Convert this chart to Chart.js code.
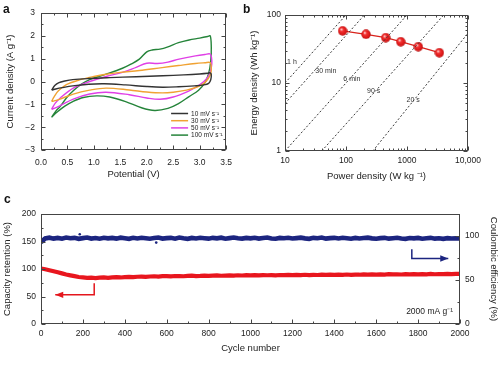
<!DOCTYPE html>
<html>
<head>
<meta charset="utf-8">
<script src="https://cdn.jsdelivr.net/npm/chart.js@4.4.1/dist/chart.umd.min.js"></script>
<style>
  body { margin: 0; background: #fff; }
  #fig { position: relative; width: 500px; height: 384px; overflow: hidden; }
  #fig canvas { position: absolute; }
  .tag { position: absolute; font: bold 12px/12px "Liberation Sans", Arial, sans-serif; color: #111; }
</style>
</head>
<body>
<div id="fig">
  <canvas id="graficoCV" width="240" height="185" style="left:0; top:0"></canvas>
  <canvas id="graficoRagone" width="255" height="185" style="left:245px; top:0"></canvas>
  <canvas id="graficoCiclos" width="500" height="194" style="left:0; top:190px"></canvas>
  <div class="tag" style="left:3px; top:3px">a</div>
  <div class="tag" style="left:243px; top:3px">b</div>
  <div class="tag" style="left:4px; top:193px">c</div>
</div>
<script>
// ---------- dados: painel a (voltametria ciclica) ----------
const cvNomes = ['10 mV s⁻¹', '30 mV s⁻¹', '50 mV s⁻¹', '100 mV s⁻¹'];
const cv10V = [0.2, 0.26, 0.34, 0.45, 0.6, 0.9, 1.3, 1.8, 2.3, 2.7, 3.0, 3.15, 3.2, 3.22, 3.21, 3.17, 3.08, 2.9, 2.6, 2.3, 2.0, 1.6, 1.2, 0.9, 0.6, 0.4, 0.28, 0.2];
const cv10I = [-0.38, -0.18, -0.05, 0.02, 0.08, 0.13, 0.17, 0.21, 0.25, 0.29, 0.33, 0.36, 0.38, 0.3, 0.08, -0.08, -0.15, -0.19, -0.23, -0.25, -0.22, -0.15, -0.1, -0.12, -0.19, -0.27, -0.33, -0.38];
const cv30V = [0.2, 0.25, 0.33, 0.48, 0.73, 1.0, 1.23, 1.5, 1.86, 2.29, 2.6, 2.92, 3.1, 3.2, 3.22, 3.21, 3.16, 3.08, 2.95, 2.75, 2.5, 2.29, 2.0, 1.67, 1.23, 0.92, 0.61, 0.36, 0.25, 0.2];
const cv30I = [-0.87, -0.66, -0.41, -0.14, 0.07, 0.22, 0.32, 0.4, 0.48, 0.61, 0.7, 0.79, 0.82, 0.83, 0.6, 0.35, 0.12, -0.08, -0.24, -0.38, -0.47, -0.5, -0.46, -0.37, -0.29, -0.38, -0.55, -0.77, -0.85, -0.87];
const cv50V = [0.2, 0.27, 0.36, 0.61, 0.92, 1.23, 1.54, 1.8, 2.0, 2.2, 2.4, 2.61, 2.92, 3.1, 3.2, 3.23, 3.22, 3.17, 3.08, 2.95, 2.8, 2.5, 2.25, 2.0, 1.67, 1.23, 0.92, 0.61, 0.36, 0.25, 0.2];
const cv50I = [-1.22, -0.95, -0.73, -0.29, 0.0, 0.22, 0.4, 0.62, 0.8, 0.79, 0.85, 0.98, 1.12, 1.18, 1.2, 0.9, 0.6, 0.25, 0.0, -0.22, -0.41, -0.68, -0.78, -0.72, -0.58, -0.47, -0.55, -0.77, -1.06, -1.18, -1.22];
const cv100V = [0.2, 0.28, 0.36, 0.48, 0.61, 0.75, 0.92, 1.23, 1.54, 1.7, 1.86, 2.0, 2.1, 2.25, 2.4, 2.6, 2.8, 3.0, 3.15, 3.2, 3.22, 3.21, 3.17, 3.1, 2.98, 2.8, 2.6, 2.4, 2.15, 1.9, 1.6, 1.3, 1.05, 0.8, 0.6, 0.45, 0.3, 0.2];
const cv100I = [-1.57, -1.3, -1.1, -0.72, -0.41, -0.14, 0.08, 0.32, 0.58, 0.76, 0.98, 1.3, 1.38, 1.42, 1.52, 1.7, 1.82, 1.9, 1.97, 2.0, 1.5, 0.9, 0.35, -0.05, -0.38, -0.66, -0.97, -1.18, -1.27, -1.15, -0.88, -0.68, -0.63, -0.7, -0.88, -1.08, -1.35, -1.57];
const cvPotTicks = [0, 0.5, 1, 1.5, 2, 2.5, 3, 3.5];
const cvCurTicks = [-3, -2, -1, 0, 1, 2, 3];

// ---------- dados: painel b (Ragone) ----------
const ragoneP = [88, 213, 448, 788, 1530, 3390];
const ragoneE = [58.5, 52, 46.4, 40.5, 34.2, 27.9];
const tempoNomes = ['1 h', '30 min', '6 min', '90 s', '20 s'];
const tempoP0 = [10, 10, 10, 40, 275];
const tempoE0 = [10, 5, 1, 1, 1];
const tempoP1 = [100, 200, 1000, 4000, 10000];
const tempoE1 = [100, 100, 100, 100, 54];
const rotuloP = [13, 46.6, 125, 284, 1259];
const rotuloE = [20.5, 14.9, 11.6, 7.65, 5.57];
const ragoneXTicks = [10, 100, 1000, 10000];
const ragoneXLabels = ['10', '100', '1000', '10,000'];
const ragoneYTicks = [1, 10, 100];

// ---------- dados: painel c (ciclagem, a cada 20 ciclos) ----------
const passoCiclo = 20;
const retencao = [
  101, 99.5, 97.8, 96, 94, 92, 90, 88.5, 87, 85.5,
  84.8, 84, 84.3, 83.6, 84.2, 84.6, 84, 84.8, 85.1, 84.6,
  85.3, 85.8, 85.2, 85.9, 86.2, 85.7, 86.4, 86.8, 86.2, 86.9,
  87.2, 86.6, 87.3, 87.1, 86.8, 87.4, 87.8, 87.2, 87.5, 88.0,
  87.4, 87.9, 88.3, 87.7, 88.1, 88.5, 88.0, 88.6, 88.2, 88.8,
  88.4, 88.9, 88.3, 89.0, 88.6, 88.9, 88.4, 89.1, 88.7, 89.2,
  88.8, 89.3, 88.9, 89.5, 89.0, 89.4, 89.1, 89.7, 89.2, 89.6,
  89.3, 89.8, 89.4, 90.0, 89.5, 89.9, 89.6, 90.2, 89.7, 90.1,
  89.8, 90.3, 89.9, 90.5, 90.1, 90.4, 90.0, 90.7, 90.2, 90.6,
  90.3, 90.8, 90.4, 91.0, 90.5, 90.9, 90.6, 91.2, 90.7, 91.1,
  91.0
];
const eficiencia = [
  93.0, 97.2, 98.1, 97.0, 97.8, 96.9, 98.3, 97.4, 97.9, 96.8,
  97.6, 98.2, 97.1, 97.7, 96.9, 98.0, 97.3, 97.8, 97.0, 98.1,
  97.4, 96.8, 97.9, 97.2, 98.0, 97.5, 96.9, 97.7, 98.2, 97.1,
  97.6, 97.9, 97.0, 98.3, 97.4, 96.8, 97.8, 97.2, 98.0, 97.5,
  97.0, 97.9, 97.3, 98.1, 96.9, 97.6, 98.2, 97.4, 97.0, 97.8,
  97.3, 98.0, 97.1, 97.7, 98.3, 97.2, 96.9, 97.8, 97.4, 98.0,
  97.1, 97.6, 98.1, 97.3, 96.8, 97.9, 97.4, 98.2, 97.0, 97.6,
  97.9, 97.2, 98.0, 97.5, 96.9, 97.8, 97.1, 97.7, 98.1, 97.3,
  96.9, 97.6, 97.9, 97.0, 97.5, 98.0, 97.2, 96.8, 97.7, 97.3,
  97.8, 96.9, 97.4, 97.9, 97.0, 97.5, 96.8, 97.6, 97.1, 97.4,
  97.2
];
const foraCiclo = [185, 550];
const foraValor = [102, 92.5];
const cicloTicks = [0, 200, 400, 600, 800, 1000, 1200, 1400, 1600, 1800, 2000];
const retencaoTicks = [0, 50, 100, 150, 200];
const eficienciaTicks = [0, 50, 100];
// setas e anotacao (unidades dos eixos)
const setaRetX = [254, 254, 68];
const setaRetY = [74, 53, 53];
const setaEfX = [1770, 1770, 1944];
const setaEfY = [85, 74.5, 74.5];
const correnteTexto = '2000 mA g⁻¹';

const fonte = '"Liberation Sans", Arial, sans-serif';
const corTexto = '#222';

function passo(min, max, step) {
  const out = [];
  for (let v = min; v <= max + 1e-9; v += step) out.push(+v.toFixed(6));
  return out;
}
function menoresLog(min, max) {
  const out = [];
  for (let d = min; d < max; d *= 10) for (let k = 2; k <= 9; k++) out.push(d * k);
  return out;
}

// moldura com tracos internos
function moldura(marcas) {
  return {
    id: 'moldura',
    afterDatasetsDraw(chart) {
      const { ctx, chartArea: a } = chart;
      const l = Math.round(a.left) + 0.5, t = Math.round(a.top) + 0.5;
      const r = Math.round(a.right) - 0.5, b = Math.round(a.bottom) - 0.5;
      ctx.save();
      ctx.strokeStyle = '#444';
      ctx.lineWidth = 1;
      ctx.strokeRect(l, t, r - l, b - t);
      marcas.forEach(m => {
        const s = chart.scales[m.eixo];
        [[m.maior, 4], [m.menor, 2]].forEach(([vals, len]) => {
          vals.forEach(v => {
            const p = Math.round(s.getPixelForValue(v)) + 0.5;
            ctx.beginPath();
            if (s.isHorizontal()) {
              if (m.lados.includes('bottom')) { ctx.moveTo(p, b); ctx.lineTo(p, b - len); }
              if (m.lados.includes('top')) { ctx.moveTo(p, t); ctx.lineTo(p, t + len); }
            } else {
              if (m.lados.includes('left')) { ctx.moveTo(l, p); ctx.lineTo(l + len, p); }
              if (m.lados.includes('right')) { ctx.moveTo(r, p); ctx.lineTo(r - len, p); }
            }
            ctx.stroke();
          });
        });
      });
      ctx.restore();
    }
  };
}

function eixo(o) {
  return {
    type: o.type || 'linear',
    position: o.position,
    min: o.min,
    max: o.max,
    afterBuildTicks: s => { s.ticks = o.ticks.map(v => ({ value: v })); },
    afterFit: s => { if (s.isHorizontal()) s.height = o.size; else s.width = o.size; },
    grid: { display: false, drawTicks: false },
    border: { display: false },
    ticks: {
      padding: o.pad, color: corTexto, autoSkip: false, maxRotation: 0,
      font: { family: fonte, size: 8.5 },
      callback: o.fmt || (v => String(v).replace('-', '−'))
    },
    title: {
      display: true, text: o.title, color: corTexto,
      font: { family: fonte, size: 9.5 }, padding: o.tpad
    }
  };
}

// marcador "bolinha" vermelha com brilho
function bolinha() {
  const c = document.createElement('canvas');
  c.width = 10; c.height = 10;
  const g = c.getContext('2d');
  const grad = g.createRadialGradient(3.6, 3.4, 0.4, 5, 5, 5);
  grad.addColorStop(0, '#ffd0d0');
  grad.addColorStop(0.3, '#f23030');
  grad.addColorStop(0.8, '#d81414');
  grad.addColorStop(1, '#a00c0c');
  g.fillStyle = grad;
  g.beginPath();
  g.arc(5, 5, 4.7, 0, Math.PI * 2);
  g.fill();
  return c;
}

// ---------- a ----------
const cvCores = ['#333333', '#f0a233', '#e03fe6', '#25843a'];
const cvV = [cv10V, cv30V, cv50V, cv100V];
const cvI = [cv10I, cv30I, cv50I, cv100I];

const legendaCV = {
  id: 'legendaCV',
  afterDatasetsDraw(chart) {
    const { ctx, chartArea: a } = chart;
    ctx.save();
    ctx.font = '6.5px ' + fonte;
    ctx.textBaseline = 'middle';
    chart.data.datasets.forEach((ds, i) => {
      const y = a.bottom - 36.5 + i * 7.2;
      ctx.strokeStyle = ds.borderColor;
      ctx.lineWidth = 1.5;
      ctx.beginPath();
      ctx.moveTo(a.right - 55, y);
      ctx.lineTo(a.right - 38, y);
      ctx.stroke();
      ctx.fillStyle = corTexto;
      ctx.fillText(ds.label, a.right - 35, y + 0.5);
    });
    ctx.restore();
  }
};

new Chart(document.getElementById('graficoCV'), {
  type: 'scatter',
  data: {
    datasets: cvNomes.map((nome, k) => ({
      label: nome,
      data: cvV[k].map((v, i) => ({ x: v, y: cvI[k][i] })),
      showLine: true,
      tension: 0.35,
      borderColor: cvCores[k],
      borderWidth: 1.4,
      pointRadius: 0
    }))
  },
  options: {
    responsive: false, animation: false, devicePixelRatio: 1,
    layout: { padding: { top: 13, right: 13, left: 0, bottom: 0 } },
    plugins: { legend: { display: false }, tooltip: { enabled: false } },
    scales: {
      x: eixo({ position: 'bottom', min: 0, max: 3.5, ticks: cvPotTicks, size: 35, pad: 8,
        fmt: v => v.toFixed(1), title: 'Potential (V)', tpad: { top: 0, bottom: 5 } }),
      y: eixo({ position: 'left', min: -3, max: 3, ticks: cvCurTicks, size: 41, pad: 6,
        title: 'Current density (A g⁻¹)', tpad: { top: 5, bottom: 0 } })
    }
  },
  plugins: [moldura([
    { eixo: 'x', maior: cvPotTicks, menor: passo(0.25, 3.25, 0.5), lados: ['bottom', 'top'] },
    { eixo: 'y', maior: cvCurTicks, menor: passo(-2.5, 2.5, 1), lados: ['left', 'right'] }
  ]), legendaCV]
});

// ---------- b ----------
const rotulosTempo = {
  id: 'rotulosTempo',
  beforeDatasetsDraw(chart) {
    const { ctx, scales: { x, y } } = chart;
    ctx.save();
    ctx.font = '7px ' + fonte;
    ctx.fillStyle = '#333';
    ctx.textAlign = 'center';
    ctx.textBaseline = 'middle';
    tempoNomes.forEach((t, i) => ctx.fillText(t, x.getPixelForValue(rotuloP[i]), y.getPixelForValue(rotuloE[i])));
    ctx.restore();
  }
};

const linhasTempo = tempoNomes.map((t, i) => ({
  label: t,
  data: [{ x: tempoP0[i], y: tempoE0[i] }, { x: tempoP1[i], y: tempoE1[i] }],
  showLine: true,
  borderColor: '#3a3a3a',
  borderWidth: 1,
  borderDash: [2, 2],
  pointRadius: 0
}));

new Chart(document.getElementById('graficoRagone'), {
  type: 'scatter',
  data: {
    datasets: [...linhasTempo, {
      label: 'Ragone',
      data: ragoneP.map((p, i) => ({ x: p, y: ragoneE[i] })),
      showLine: true,
      borderColor: '#d8231c',
      borderWidth: 1.3,
      pointStyle: bolinha(),
      pointRadius: 5
    }]
  },
  options: {
    responsive: false, animation: false, devicePixelRatio: 1,
    layout: { padding: { top: 15, right: 32, left: 0, bottom: 0 } },
    plugins: { legend: { display: false }, tooltip: { enabled: false } },
    scales: {
      x: eixo({ type: 'logarithmic', position: 'bottom', min: 10, max: 10000, ticks: ragoneXTicks, size: 34, pad: 5,
        fmt: (v, i) => ragoneXLabels[i], title: 'Power density (W kg ⁻¹)', tpad: { top: 0, bottom: 3 } }),
      y: eixo({ type: 'logarithmic', position: 'left', min: 1, max: 100, ticks: ragoneYTicks, size: 40, pad: 4,
        fmt: v => String(v), title: 'Energy density (Wh kg⁻¹)', tpad: { top: 4, bottom: 0 } })
    }
  },
  plugins: [moldura([
    { eixo: 'x', maior: ragoneXTicks, menor: menoresLog(10, 10000), lados: ['bottom', 'top'] },
    { eixo: 'y', maior: ragoneYTicks, menor: menoresLog(1, 100), lados: ['left', 'right'] }
  ]), rotulosTempo]
});

// ---------- c ----------
const ciclos = retencao.map((_, i) => i * passoCiclo);

const setas = {
  id: 'setas',
  afterDatasetsDraw(chart) {
    const { ctx, scales } = chart;
    const seta = (xs, ys, eixoY, cor) => {
      const pts = xs.map((v, i) => [scales.x.getPixelForValue(v), scales[eixoY].getPixelForValue(ys[i])]);
      ctx.strokeStyle = cor;
      ctx.fillStyle = cor;
      ctx.lineWidth = 1.5;
      ctx.beginPath();
      pts.forEach(([px, py], i) => (i ? ctx.lineTo(px, py) : ctx.moveTo(px, py)));
      ctx.stroke();
      const [x1, y1] = pts[pts.length - 2];
      const [x2, y2] = pts[pts.length - 1];
      const ang = Math.atan2(y2 - y1, x2 - x1);
      const c = Math.cos(ang), s = Math.sin(ang);
      ctx.beginPath();
      ctx.moveTo(x2, y2);
      ctx.lineTo(x2 - 8 * c + 3.2 * s, y2 - 8 * s - 3.2 * c);
      ctx.lineTo(x2 - 8 * c - 3.2 * s, y2 - 8 * s + 3.2 * c);
      ctx.closePath();
      ctx.fill();
    };
    ctx.save();
    seta(setaRetX, setaRetY, 'y', '#e4161d');
    seta(setaEfX, setaEfY, 'y2', '#1c2580');
    ctx.font = '8.5px ' + fonte;
    ctx.fillStyle = corTexto;
    ctx.textAlign = 'right';
    ctx.textBaseline = 'middle';
    ctx.fillText(correnteTexto, scales.x.getPixelForValue(1967), scales.y.getPixelForValue(22));
    ctx.restore();
  }
};

new Chart(document.getElementById('graficoCiclos'), {
  type: 'line',
  data: {
    datasets: [
      {
        label: 'Capacity retention',
        data: ciclos.map((c, i) => ({ x: c, y: retencao[i] })),
        yAxisID: 'y',
        borderColor: '#e8161e',
        borderWidth: 4.2,
        pointRadius: 0,
        tension: 0
      },
      {
        label: 'Coulombic efficiency',
        data: ciclos.map((c, i) => ({ x: c, y: eficiencia[i] })),
        yAxisID: 'y2',
        borderColor: '#1c2580',
        borderWidth: 4.6,
        pointRadius: 0,
        tension: 0
      },
      {
        label: 'CE outliers',
        data: foraCiclo.map((c, i) => ({ x: c, y: foraValor[i] })),
        yAxisID: 'y2',
        showLine: false,
        pointRadius: 1.3,
        pointBackgroundColor: '#1c2580',
        pointBorderWidth: 0
      }
    ]
  },
  options: {
    responsive: false, animation: false, devicePixelRatio: 1,
    layout: { padding: { top: 24, right: 0, left: 0, bottom: 20 } },
    plugins: { legend: { display: false }, tooltip: { enabled: false } },
    scales: {
      x: eixo({ position: 'bottom', min: 0, max: 2000, ticks: cicloTicks, size: 40, pad: 5,
        title: 'Cycle number', tpad: { top: 0, bottom: 10 } }),
      y: eixo({ position: 'left', min: 0, max: 200, ticks: retencaoTicks, size: 41, pad: 5,
        title: 'Capacity retention (%)', tpad: { top: 2, bottom: 0 } }),
      y2: eixo({ position: 'right', min: 0, max: 125, ticks: eficienciaTicks, size: 40, pad: 5,
        title: 'Coulombic efficiency (%)', tpad: { top: 1, bottom: 0 } })
    }
  },
  plugins: [moldura([
    { eixo: 'x', maior: cicloTicks, menor: passo(100, 1900, 200), lados: ['bottom'] },
    { eixo: 'y', maior: retencaoTicks, menor: passo(25, 175, 50), lados: ['left'] },
    { eixo: 'y2', maior: eficienciaTicks, menor: [25, 75], lados: ['right'] }
  ]), setas]
});
</script>
</body>
</html>
